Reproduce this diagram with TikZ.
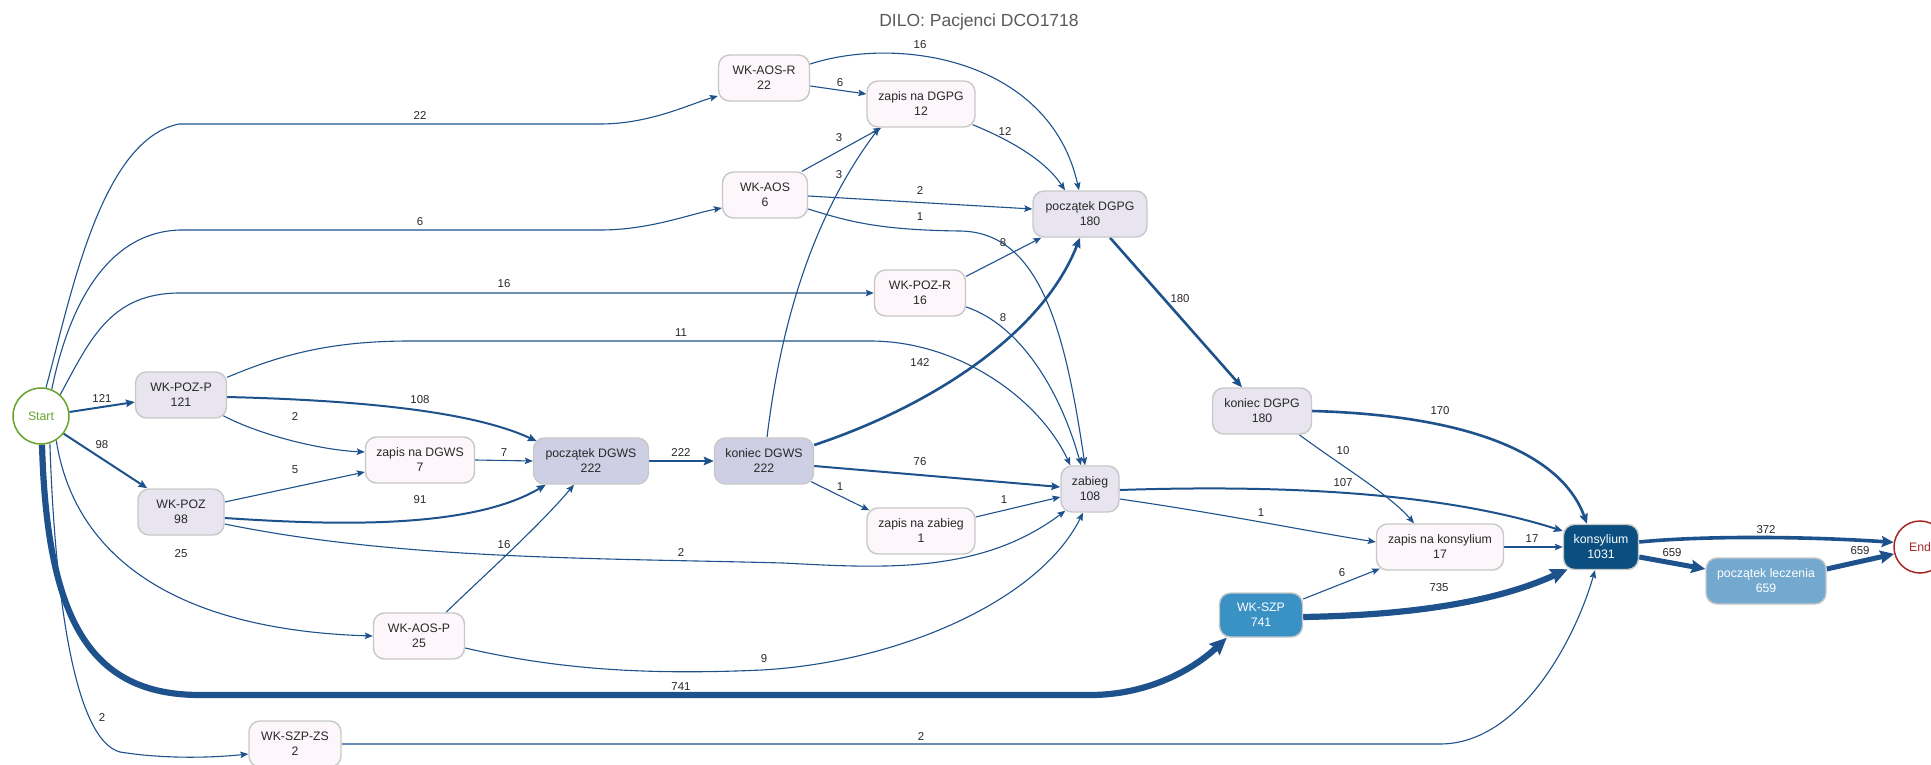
\documentclass[tikz,border=0pt]{standalone}
\usepackage{fontspec}
\setmainfont{Liberation Sans}
\usetikzlibrary{arrows.meta,backgrounds}
\definecolor{edgec}{RGB}{30,82,140}
\definecolor{bord}{RGB}{200,200,200}
\definecolor{fpink}{RGB}{253,246,250}
\definecolor{flav}{RGB}{232,229,240}
\definecolor{fdgws}{RGB}{206,207,228}
\definecolor{fszp}{RGB}{58,146,196}
\definecolor{fkons}{RGB}{10,79,127}
\definecolor{flecz}{RGB}{116,169,207}
\definecolor{startc}{RGB}{104,163,44}
\definecolor{endc}{RGB}{165,40,40}
\definecolor{titlec}{RGB}{90,90,90}
\definecolor{txt}{RGB}{40,40,40}
\newcommand{\nodefnt}{\fontsize{12.3}{15}\selectfont}
\newcommand{\lblfnt}{\fontsize{11.4}{13}\selectfont}
\newcommand{\titlefnt}{\fontsize{17.5}{20}\selectfont}
\begin{document}
\begin{tikzpicture}[x=1pt,y=-1pt,
  box/.style={rectangle,rounded corners=11pt,draw=bord,line width=1.4pt,fill=#1,align=center,minimum height=46pt,inner sep=2pt,font=\nodefnt,text=txt},
  dbox/.style={box=#1,text=white},
  circ/.style={circle,draw=#1,line width=1.5pt,fill=white,text=#1,minimum size=56pt,inner sep=0pt,font=\nodefnt},
  lbl/.style={font=\lblfnt,text=txt,inner sep=1pt},
  ed/.style={draw=edgec},
  w1/.style={ed,line width=1.1pt,-{Stealth[length=8pt,width=6.5pt,inset=1.5pt]}},
  w2/.style={ed,line width=2pt,-{Stealth[length=9pt,width=7.5pt,inset=1.5pt]}},
  w3/.style={ed,line width=2.6pt,-{Stealth[length=10pt,width=8.5pt,inset=1.5pt]}},
  w4/.style={ed,line width=3.6pt,-{Stealth[length=12pt,width=11pt,inset=2pt]}},
  w5/.style={ed,line width=5pt,-{Stealth[length=14pt,width=13pt,inset=2pt]}},
  w6/.style={ed,line width=6.2pt,-{Stealth[length=17pt,width=15pt,inset=2pt]}}
]
\useasboundingbox (0,0) rectangle (1931,765);
\begin{scope}[on background layer]
\fill[white] (0,0) rectangle (1931,765);
\end{scope}

\node[font=\titlefnt,text=titlec] (title) at (979,22) {DILO: Pacjenci DCO1718};

% nodes
\node[circ=startc] (Start) at (41,416) {Start};
\node[circ=endc,minimum size=52pt] (End) at (1920,547) {End};
\node[box=fpink,minimum width=91pt] (WKAOSR) at (764,78) {WK-AOS-R\\22};
\node[box=fpink,minimum width=108pt] (zDGPG) at (921,104) {zapis na DGPG\\12};
\node[box=fpink,minimum width=85pt] (WKAOS) at (765,195) {WK-AOS\\6};
\node[box=flav,minimum width=114pt] (pDGPG) at (1090,214) {początek DGPG\\180};
\node[box=fpink,minimum width=91pt] (WKPOZR) at (920,293) {WK-POZ-R\\16};
\node[box=flav,minimum width=91pt] (WKPOZP) at (181,395) {WK-POZ-P\\121};
\node[box=flav,minimum width=86pt] (WKPOZ) at (181,512) {WK-POZ\\98};
\node[box=fpink,minimum width=109pt] (zDGWS) at (420,460) {zapis na DGWS\\7};
\node[box=fdgws,minimum width=115pt] (pDGWS) at (591,461) {początek DGWS\\222};
\node[box=fdgws,minimum width=99pt] (kDGWS) at (764,461) {koniec DGWS\\222};
\node[box=fpink,minimum width=91pt] (WKAOSP) at (419,636) {WK-AOS-P\\25};
\node[box=fpink,minimum width=92pt] (WKSZPZS) at (295,744) {WK-SZP-ZS\\2};
\node[box=flav,minimum width=58pt] (zab) at (1090,489) {zabieg\\108};
\node[box=fpink,minimum width=108pt] (zZab) at (921,531) {zapis na zabieg\\1};
\node[box=flav,minimum width=99pt] (kDGPG) at (1262,411) {koniec DGPG\\180};
\node[box=fpink,minimum width=127pt] (zKons) at (1440,547) {zapis na konsylium\\17};
\node[dbox=fszp,minimum width=83pt,minimum height=44pt] (WKSZP) at (1261,615) {WK-SZP\\741};
\node[dbox=fkons,minimum width=75pt,minimum height=45pt] (kons) at (1601,547) {konsylium\\1031};
\node[dbox=flecz,minimum width=120pt] (pLecz) at (1766,581) {początek leczenia\\659};

% edges
\begin{scope}[on background layer]
\draw[w1] (Start.80) .. controls (70,300) and (100,140) .. (179,124) -- (600,124) .. controls (650,124) and (690,104) .. ([yshift=-18pt]WKAOSR.west);
\draw[w1] (Start.68) .. controls (70,300) and (110,232) .. (180,230) -- (600,230) .. controls (650,230) and (690,214) .. ([yshift=-13pt]WKAOS.west);
\draw[w1] (Start.48) .. controls (90,340) and (110,293) .. (180,293) -- (WKPOZR.west);
\draw[w2] (Start.8) -- ([yshift=-7pt]WKPOZP.west);
\draw[w2] (Start.-38) -- ([xshift=10pt]WKPOZ.north west);
\draw[w1] (Start.-58) .. controls (75,560) and (180,630) .. (WKAOSP.west);
\draw[w6] (Start.-88) .. controls (47,620) and (90,695) .. (200,695) -- (1090,695) .. controls (1150,695) and (1195,668) .. ([xshift=8pt]WKSZP.south west);
\draw[w1] (Start.-72) .. controls (55,600) and (75,740) .. (120,752) .. controls (170,760) and (220,757) .. ([yshift=-10pt]WKSZPZS.west);
\draw[w1] ([yshift=-6pt]WKPOZP.north east) .. controls (280,355) and (330,341) .. (410,341) -- (870,341) .. controls (960,341) and (1040,400) .. ([xshift=10pt]zab.north west);
\draw[w2] ([yshift=-2pt]WKPOZP.east) .. controls (350,400) and (470,410) .. ([xshift=4pt,yshift=-4pt]pDGWS.north west);
\draw[w1] ([xshift=-4pt,yshift=3pt]WKPOZP.south east) .. controls (260,435) and (320,450) .. ([yshift=8pt]zDGWS.west);
\draw[w1] ([yshift=10pt]WKPOZ.east) -- ([yshift=-12pt]zDGWS.west);
\draw[w2] ([yshift=-6pt]WKPOZ.east) .. controls (330,525) and (470,530) .. ([xshift=13pt]pDGWS.south west);
\draw[w1] ([yshift=-12pt]WKPOZ.east) .. controls (400,560) and (600,558) .. (783,563) .. controls (880,568) and (980,575) .. ([xshift=5pt,yshift=2pt]zab.south west);
\draw[w1] (zDGWS.east) -- (pDGWS.west);
\draw[w1] ([xshift=27pt]WKAOSP.north) .. controls (490,570) and (540,525) .. ([xshift=-17pt]pDGWS.south);
\draw[w1] ([yshift=-12pt]WKAOSP.east) .. controls (560,670) and (650,675) .. (762,670) .. controls (900,662) and (1040,600) .. ([xshift=-7pt]zab.south);
\draw[w1] (WKSZPZS.east) -- (1440,744) .. controls (1520,744) and (1575,640) .. ([xshift=-6pt]kons.south);
\draw[w3] (pDGWS.east) -- (kDGWS.west);
\draw[w1] ([xshift=3pt]kDGWS.north) .. controls (780,330) and (810,220) .. ([xshift=13pt]zDGPG.south west);
\draw[w3] ([yshift=16pt]kDGWS.east) .. controls (920,410) and (1040,340) .. ([xshift=-10pt]pDGPG.south);
\draw[w2] ([yshift=-5pt]kDGWS.east) -- ([yshift=2pt]zab.west);
\draw[w1] ([xshift=-3pt,yshift=3pt]kDGWS.south east) -- ([xshift=3pt,yshift=-3pt]zZab.north west);
\draw[w1] ([yshift=14pt]zZab.east) -- ([yshift=-8pt]zab.west);
\draw[w1] ([yshift=-8pt]WKAOSR.east) -- ([yshift=10pt]zDGPG.west);
\draw[w1] ([yshift=14pt]WKAOSR.east) .. controls (900,35) and (1050,60) .. ([xshift=-11pt]pDGPG.north);
\draw[w1] ([xshift=37pt]WKAOS.north) -- ([xshift=15pt]zDGPG.south west);
\draw[w1] ([yshift=-1pt]WKAOS.east) -- ([yshift=5pt]pDGPG.west);
\draw[w1] ([yshift=-14pt]WKAOS.east) .. controls (850,222) and (880,230) .. (960,231) .. controls (1040,232) and (1065,330) .. ([xshift=-5pt]zab.north);
\draw[w1] ([xshift=-3pt,yshift=3pt]zDGPG.south east) .. controls (1010,140) and (1045,160) .. ([xshift=-25pt]pDGPG.north);
\draw[w1] ([yshift=-7pt]WKPOZR.north east) -- ([xshift=9pt]pDGPG.south west);
\draw[w1] ([yshift=-14pt]WKPOZR.east) .. controls (1020,325) and (1060,390) .. ([xshift=-9pt]zab.north);
\draw[w3] ([xshift=20pt]pDGPG.south) -- ([xshift=-20pt]kDGPG.north);
\draw[w3] (kDGPG.east) .. controls (1460,415) and (1560,450) .. ([xshift=-14pt]kons.north);
\draw[w1] ([xshift=-13pt]kDGPG.south east) .. controls (1340,465) and (1390,495) .. ([xshift=-26pt]zKons.north);
\draw[w2] ([yshift=-1pt]zab.east) .. controls (1300,484) and (1450,495) .. ([yshift=16pt]kons.west);
\draw[w1] ([yshift=-10pt]zab.east) .. controls (1230,515) and (1300,530) .. ([yshift=5pt]zKons.west);
\draw[w1] (zKons.east) -- (kons.west);
\draw[w1] ([yshift=16pt]WKSZP.east) -- ([xshift=4pt,yshift=2pt]zKons.south west);
\draw[w6] ([yshift=-2pt]WKSZP.east) .. controls (1420,615) and (1500,600) .. ([xshift=5pt,yshift=1pt]kons.south west);
\draw[w4] ([yshift=5pt]kons.east) .. controls (1700,536) and (1800,536) .. (End.170);
\draw[w5] ([yshift=-10pt]kons.east) -- ([yshift=12pt]pLecz.west);
\draw[w5] ([yshift=12pt]pLecz.east) -- (End.195);
\end{scope}

% edge labels
\node[lbl] (l1) at (420,116) {22};
\node[lbl] (l2) at (420,222) {6};
\node[lbl] (l3) at (504,284) {16};
\node[lbl] (l4) at (102,399) {121};
\node[lbl] (l5) at (102,445) {98};
\node[lbl] (l6) at (181,554) {25};
\node[lbl] (l7) at (681,687) {741};
\node[lbl] (l8) at (102,718) {2};
\node[lbl] (l9) at (681,333) {11};
\node[lbl] (l10) at (420,400) {108};
\node[lbl] (l11) at (295,417) {2};
\node[lbl] (l12) at (295,470) {5};
\node[lbl] (l13) at (420,500) {91};
\node[lbl] (l14) at (681,553) {2};
\node[lbl] (l15) at (504,453) {7};
\node[lbl] (l16) at (504,545) {16};
\node[lbl] (l17) at (764,659) {9};
\node[lbl] (l18) at (921,737) {2};
\node[lbl] (l19) at (681,453) {222};
\node[lbl] (l20) at (839,175) {3};
\node[lbl] (l21) at (920,363) {142};
\node[lbl] (l22) at (920,462) {76};
\node[lbl] (l23) at (840,487) {1};
\node[lbl] (l24) at (1004,500) {1};
\node[lbl] (l25) at (840,83) {6};
\node[lbl] (l26) at (920,45) {16};
\node[lbl] (l27) at (839,138) {3};
\node[lbl] (l28) at (920,191) {2};
\node[lbl] (l29) at (920,217) {1};
\node[lbl] (l30) at (1005,132) {12};
\node[lbl] (l31) at (1003,243) {8};
\node[lbl] (l32) at (1003,318) {8};
\node[lbl] (l33) at (1180,299) {180};
\node[lbl] (l34) at (1440,411) {170};
\node[lbl] (l35) at (1343,451) {10};
\node[lbl] (l36) at (1343,483) {107};
\node[lbl] (l37) at (1261,513) {1};
\node[lbl] (l38) at (1532,539) {17};
\node[lbl] (l39) at (1342,573) {6};
\node[lbl] (l40) at (1439,588) {735};
\node[lbl] (l41) at (1766,530) {372};
\node[lbl] (l42) at (1672,553) {659};
\node[lbl] (l43) at (1860,551) {659};
\end{tikzpicture}
\end{document}
